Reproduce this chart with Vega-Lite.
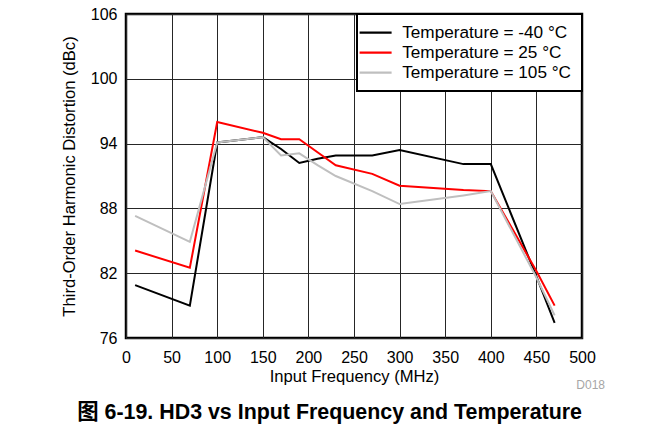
{
  "$schema": "https://vega.github.io/schema/vega-lite/v6.json",
  "width": 456,
  "height": 324,
  "autosize": {"type": "none"},
  "padding": {"left": 126, "top": 14, "right": 82, "bottom": 101},
  "background": "white",
  "title": {
    "text": "图 6-19. HD3 vs Input Frequency and Temperature",
    "orient": "bottom",
    "anchor": "end",
    "frame": "group",
    "font": "Liberation Sans, Noto Sans CJK SC",
    "fontSize": 21.4,
    "fontWeight": "bold",
    "color": "black",
    "offset": 11
  },
  "datasets": {
    "hd3": [
      {"freq": 10, "hd3": 80.9, "temp": "Temperature = -40 °C"},
      {"freq": 70, "hd3": 79.0, "temp": "Temperature = -40 °C"},
      {"freq": 100, "hd3": 94.1, "temp": "Temperature = -40 °C"},
      {"freq": 150, "hd3": 94.6, "temp": "Temperature = -40 °C"},
      {"freq": 170, "hd3": 93.5, "temp": "Temperature = -40 °C"},
      {"freq": 190, "hd3": 92.2, "temp": "Temperature = -40 °C"},
      {"freq": 210, "hd3": 92.6, "temp": "Temperature = -40 °C"},
      {"freq": 230, "hd3": 92.9, "temp": "Temperature = -40 °C"},
      {"freq": 270, "hd3": 92.9, "temp": "Temperature = -40 °C"},
      {"freq": 300, "hd3": 93.4, "temp": "Temperature = -40 °C"},
      {"freq": 370, "hd3": 92.1, "temp": "Temperature = -40 °C"},
      {"freq": 400, "hd3": 92.1, "temp": "Temperature = -40 °C"},
      {"freq": 450, "hd3": 81.7, "temp": "Temperature = -40 °C"},
      {"freq": 470, "hd3": 77.4, "temp": "Temperature = -40 °C"},
      {"freq": 10, "hd3": 84.1, "temp": "Temperature = 25 °C"},
      {"freq": 70, "hd3": 82.5, "temp": "Temperature = 25 °C"},
      {"freq": 100, "hd3": 96.0, "temp": "Temperature = 25 °C"},
      {"freq": 150, "hd3": 95.0, "temp": "Temperature = 25 °C"},
      {"freq": 170, "hd3": 94.4, "temp": "Temperature = 25 °C"},
      {"freq": 190, "hd3": 94.4, "temp": "Temperature = 25 °C"},
      {"freq": 210, "hd3": 93.2, "temp": "Temperature = 25 °C"},
      {"freq": 230, "hd3": 92.0, "temp": "Temperature = 25 °C"},
      {"freq": 270, "hd3": 91.2, "temp": "Temperature = 25 °C"},
      {"freq": 300, "hd3": 90.1, "temp": "Temperature = 25 °C"},
      {"freq": 370, "hd3": 89.7, "temp": "Temperature = 25 °C"},
      {"freq": 400, "hd3": 89.6, "temp": "Temperature = 25 °C"},
      {"freq": 450, "hd3": 82.2, "temp": "Temperature = 25 °C"},
      {"freq": 470, "hd3": 79.0, "temp": "Temperature = 25 °C"},
      {"freq": 10, "hd3": 87.3, "temp": "Temperature = 105 °C"},
      {"freq": 70, "hd3": 84.9, "temp": "Temperature = 105 °C"},
      {"freq": 100, "hd3": 94.1, "temp": "Temperature = 105 °C"},
      {"freq": 150, "hd3": 94.6, "temp": "Temperature = 105 °C"},
      {"freq": 170, "hd3": 92.9, "temp": "Temperature = 105 °C"},
      {"freq": 190, "hd3": 93.1, "temp": "Temperature = 105 °C"},
      {"freq": 210, "hd3": 92.0, "temp": "Temperature = 105 °C"},
      {"freq": 230, "hd3": 91.0, "temp": "Temperature = 105 °C"},
      {"freq": 270, "hd3": 89.6, "temp": "Temperature = 105 °C"},
      {"freq": 300, "hd3": 88.4, "temp": "Temperature = 105 °C"},
      {"freq": 370, "hd3": 89.2, "temp": "Temperature = 105 °C"},
      {"freq": 400, "hd3": 89.6, "temp": "Temperature = 105 °C"},
      {"freq": 450, "hd3": 81.6, "temp": "Temperature = 105 °C"},
      {"freq": 470, "hd3": 78.1, "temp": "Temperature = 105 °C"}
    ],
    "note": [
      {"freq": 500, "hd3": 76, "label": "D018"}
    ]
  },
  "layer": [
    {
      "data": {"name": "hd3"},
      "mark": {"type": "line", "strokeWidth": 2, "clip": true},
      "encoding": {
        "x": {
          "field": "freq",
          "type": "quantitative",
          "scale": {"domain": [0, 500], "nice": false},
          "axis": {
            "title": "Input Frequency (MHz)",
            "values": [0, 50, 100, 150, 200, 250, 300, 350, 400, 450, 500],
            "labelFlush": false,
            "labelPadding": 11,
            "titlePadding": 3
          }
        },
        "y": {
          "field": "hd3",
          "type": "quantitative",
          "scale": {"domain": [76, 106], "nice": false, "zero": false},
          "axis": {
            "title": "Third-Order Harmonic Distortion (dBc)",
            "values": [76, 82, 88, 94, 100, 106],
            "labelFlush": false,
            "labelPadding": 9,
            "titlePadding": 13
          }
        },
        "color": {
          "field": "temp",
          "type": "nominal",
          "sort": null,
          "scale": {
            "domain": ["Temperature = -40 °C", "Temperature = 25 °C", "Temperature = 105 °C"],
            "range": ["#000000", "#ff0000", "#bfbfbf"]
          },
          "legend": {
            "title": null,
            "orient": "top-right",
            "offset": 0,
            "symbolType": "M-3.2,0L3.2,0",
            "symbolSize": 100,
            "symbolStrokeWidth": 2.2,
            "labelOffset": 18,
            "labelFontSize": 17.2,
            "labelLimit": 300,
            "labelColor": "black",
            "rowPadding": 2,
            "padding": 10,
            "strokeColor": "black",
            "fillColor": "white"
          }
        }
      }
    },
    {
      "data": {"name": "note"},
      "mark": {
        "type": "text",
        "align": "right",
        "baseline": "alphabetic",
        "dx": 23,
        "dy": 51,
        "fontSize": 12,
        "color": "#a6a6a6",
        "font": "Liberation Sans"
      },
      "encoding": {
        "x": {"field": "freq", "type": "quantitative"},
        "y": {"field": "hd3", "type": "quantitative"},
        "text": {"field": "label"}
      }
    }
  ],
  "config": {
    "font": "Liberation Sans",
    "view": {"stroke": "black", "strokeWidth": 2.5},
    "axis": {
      "domain": false,
      "ticks": false,
      "grid": true,
      "gridColor": "#262626",
      "gridOpacity": 1,
      "gridWidth": 1,
      "labelFont": "Liberation Sans",
      "labelFontSize": 16,
      "labelColor": "black",
      "titleFont": "Liberation Sans",
      "titleFontSize": 16.6,
      "titleFontWeight": "normal",
      "titleColor": "black"
    },
    "legend": {
      "labelFont": "Liberation Sans",
      "strokeWidth": 2
    }
  }
}
